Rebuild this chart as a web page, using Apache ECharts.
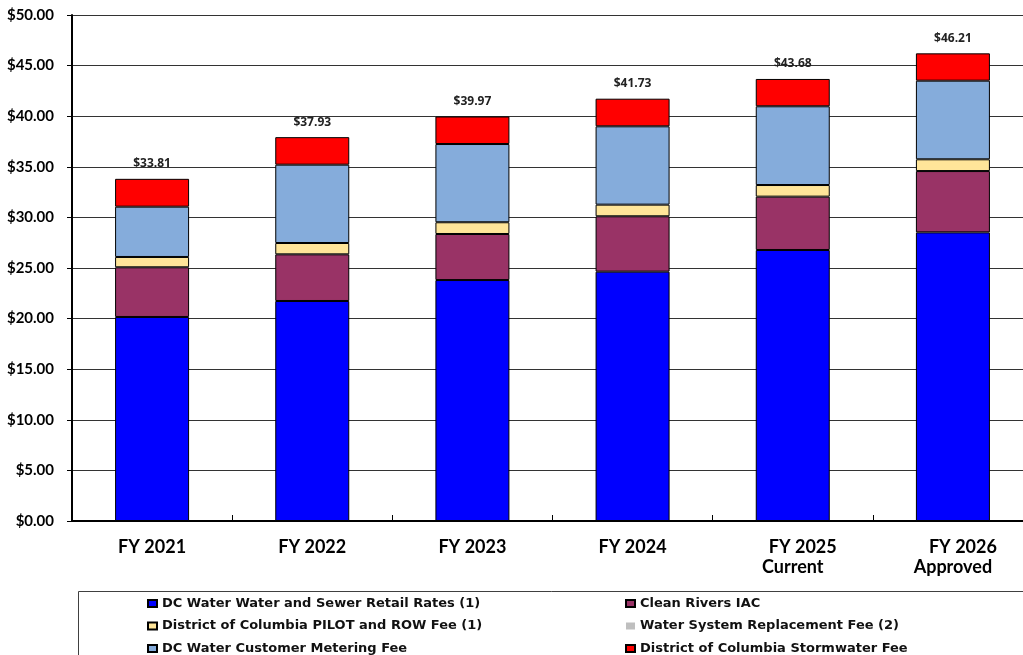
<!DOCTYPE html>
<html>
<head>
<meta charset="utf-8">
<script src="https://cdn.jsdelivr.net/npm/echarts@6/dist/echarts.min.js"></script>
<style>
  html, body { margin: 0; padding: 0; background: #fff; }
  #chart { width: 1023px; height: 655px; }
</style>
</head>
<body>
<div id="chart"></div>
<script>
  // fiscal years on the x axis
  var categories = ['FY 2021', 'FY 2022', 'FY 2023', 'FY 2024', 'FY 2025', 'FY 2026']
  var subLabels = ['', '', '', '', 'Current', 'Approved']

  // monthly bill components ($)
  var retailRates = [20.16, 21.74, 23.81, 24.64, 26.78, 28.52]
  var cleanRivers = [4.91, 4.61, 4.55, 5.47, 5.27, 6.06]
  var pilotRow = [1.02, 1.12, 1.16, 1.15, 1.15, 1.16]
  var replacementFee = [0, 0, 0, 0, 0, 0]
  var meteringFee = [4.97, 7.74, 7.73, 7.74, 7.78, 7.77]
  var stormwaterFee = [2.75, 2.72, 2.72, 2.73, 2.70, 2.70]
  var totals = [33.81, 37.93, 39.97, 41.73, 43.68, 46.21]

  var yTicks = [0, 5, 10, 15, 20, 25, 30, 35, 40, 45, 50]

  var FONT = 'Lato'

  function makeSeries(name, data, color, border) {
    return {
      name: name,
      type: 'bar',
      stack: 'bill',
      barWidth: 74,
      data: data,
      itemStyle: {
        color: color,
        borderColor: '#000',
        borderWidth: border
      }
    }
  }

  var series = [
    makeSeries('DC Water Water and Sewer Retail Rates (1)', retailRates, '#0000ff', 1),
    makeSeries('Clean Rivers IAC', cleanRivers, '#993366', 1),
    makeSeries('District of Columbia PILOT and ROW Fee (1)', pilotRow, '#ffe599', 1),
    makeSeries('Water System Replacement Fee (2)', replacementFee, '#bfbfbf', 0),
    makeSeries('DC Water Customer Metering Fee', meteringFee, '#85acdb', 1),
    makeSeries('District of Columbia Stormwater Fee', stormwaterFee, '#ff0000', 1)
  ]
  series[5].label = {
    show: true,
    position: 'top',
    distance: 9,
    fontFamily: 'Open Sans',
    fontWeight: 'bold',
    fontSize: 12,
    color: '#222',
    formatter: function (p) {
      return '$' + totals[p.dataIndex].toFixed(2)
    }
  }

  var legendText = {
    fontFamily: 'DejaVu Sans',
    fontWeight: 'bold',
    fontSize: 13,
    color: '#111'
  }

  var chart = echarts.init(document.getElementById('chart'))
  chart.setOption({
    animation: false,
    backgroundColor: '#fff',
    grid: {
      left: 72,
      width: 961,
      top: 15,
      bottom: 134,
      containLabel: false,
      outerBoundsMode: 'none'
    },
    legend: [
      {
        orient: 'vertical',
        left: 147,
        top: 597,
        height: 90,
        padding: 0,
        itemWidth: 9,
        itemHeight: 7,
        itemGap: 9.5,
        icon: 'rect',
        textStyle: legendText,
        data: [series[0].name, series[2].name, series[4].name]
      },
      {
        orient: 'vertical',
        left: 625,
        top: 597,
        height: 90,
        padding: 0,
        itemWidth: 9,
        itemHeight: 7,
        itemGap: 9.5,
        icon: 'rect',
        textStyle: legendText,
        data: [series[1].name, series[3].name, series[5].name]
      }
    ],
    graphic: [
      {
        type: 'rect',
        silent: true,
        shape: { x: 78.5, y: 591.5, width: 1000, height: 100 },
        style: { fill: 'none', stroke: '#404040', lineWidth: 1 }
      }
    ],
    xAxis: {
      type: 'category',
      data: categories,
      axisLine: { lineStyle: { color: '#000', width: 2 } },
      axisTick: { show: true, inside: true, length: 6, lineStyle: { color: '#000' } },
      axisLabel: {
        margin: 16,
        lineHeight: 20,
        formatter: function (v, i) {
          if (subLabels[i]) return '{a|' + v + '}\n{b|' + subLabels[i] + '}'
          return '{b|' + v + '}'
        },
        rich: {
          a: { fontFamily: FONT, fontWeight: 'bold', fontSize: 18, color: '#000', padding: [0, 0, 0, 20], lineHeight: 20 },
          b: { fontFamily: FONT, fontWeight: 'bold', fontSize: 18, color: '#000', lineHeight: 20 }
        }
      }
    },
    yAxis: {
      type: 'value',
      min: yTicks[0],
      max: yTicks[yTicks.length - 1],
      interval: 5,
      axisLine: { show: true, lineStyle: { color: '#000', width: 2 } },
      axisTick: { show: true, length: 5, lineStyle: { color: '#000' } },
      splitLine: { show: true, lineStyle: { color: '#333', width: 1 } },
      axisLabel: {
        margin: 18,
        fontFamily: FONT,
        fontWeight: 'bold',
        fontSize: 15,
        color: '#000',
        formatter: function (v) { return '$' + v.toFixed(2) }
      }
    },
    series: series
  })
</script>
</body>
</html>
